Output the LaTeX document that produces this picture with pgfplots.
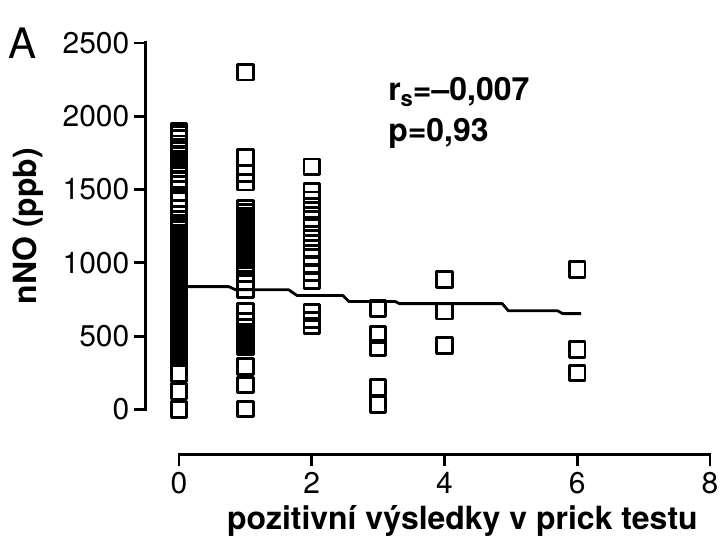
\documentclass[border=0pt]{standalone}
\usepackage{pgfplots}
\pgfplotsset{compat=1.18}
\usepackage{fontspec}
\setmainfont{TeX Gyre Heros}

% nNO values grouped by number of positive prick-test results
\pgfplotstableread{
x y
0 1895
0 1875
0 1850
0 1812
0 1790
0 1765
0 1730
0 1700
0 1670
0 1640
0 1610
0 1570
0 1535
0 1440
0 1370
0 1335
0 1300
0 1270
0 1240
0 1200
0 1175
0 1160
0 1145
0 1130
0 1115
0 1100
0 1085
0 1070
0 1055
0 1040
0 1025
0 1010
0 995
0 980
0 965
0 950
0 935
0 920
0 905
0 890
0 875
0 860
0 845
0 830
0 815
0 800
0 785
0 770
0 755
0 740
0 725
0 710
0 695
0 680
0 665
0 650
0 635
0 620
0 605
0 590
0 575
0 560
0 545
0 530
0 515
0 500
0 485
0 470
0 455
0 440
0 425
0 410
0 395
0 380
0 365
0 350
0 245
0 125
0 0
1 2300
1 1720
1 1610
1 1550
1 1370
1 1345
1 1320
1 1300
1 1275
1 1250
1 1230
1 1205
1 1180
1 1160
1 1135
1 1110
1 1090
1 1065
1 1040
1 1020
1 995
1 970
1 870
1 817
1 668
1 600
1 530
1 510
1 490
1 470
1 450
1 430
1 293
1 167
1 3
2 1655
2 1490
2 1430
2 1360
2 1300
2 1240
2 1170
2 1100
2 1040
2 980
2 930
2 880
2 660
2 610
2 570
3 690
3 510
3 420
3 150
3 35
4 885
4 670
4 435
6 955
6 410
6 250
}\nnodata

% fitted trend (stepwise)
\pgfplotstableread{
x y
0    838
0.75 838
0.85 817
1.65 817
1.78 777
2.47 777
2.56 736
3.26 736
3.32 722
4.87 722
4.96 674
5.70 674
5.78 654
6.06 654
}\trend

\begin{document}
\begin{tikzpicture}
\begin{axis}[
  scale only axis,
  width=565pt, height=412pt,
  xmin=-0.5, xmax=8,
  ymin=-306, ymax=2500,
  axis x line*=bottom, axis y line*=left,
  axis line style={draw=none},
  clip=false,
  xtick={0,2,4,6,8},
  ytick={0,500,1000,1500,2000,2500},
  tick align=outside,
  major tick length=12pt,
  every tick/.style={black, line width=2.8pt},
  /pgf/number format/1000 sep={},
  /pgf/number format/assume math mode=true,
  tick label style={font=\fontsize{30}{35}\selectfont},
  xticklabel style={yshift=-2pt},
  yticklabel style={xshift=-1pt},
  ylabel={\bfseries nNO (ppb)},
  ylabel style={at={(axis description cs:-0.208,0.5545)}, anchor=center,
    font=\fontsize{32}{38}\selectfont},
  xlabel={\bfseries pozitivní výsledky v prick testu},
  xlabel style={at={(axis description cs:0.561,-0.163)}, anchor=center,
    font=\fontsize{32}{38}\selectfont},
]
% axis lines offset from each other
\draw[line width=2.9pt, line cap=rect] (axis cs:-0.5,0) -- (axis cs:-0.5,2500);
\draw[line width=2.9pt, line cap=rect] (axis cs:0,-306) -- (axis cs:8,-306);

\addplot[black, line width=2.8pt, line join=round] table[x=x, y=y] {\trend};
\addplot[only marks, mark=square, mark size=7.8pt,
  mark options={black, line width=2.9pt, line join=round}] table[x=x, y=y] {\nnodata};

\node[anchor=west, font=\fontsize{32}{38}\selectfont\bfseries, inner sep=0pt]
  at (axis cs:3.15,2165) {r\raisebox{-0.35ex}{\fontsize{22}{26}\selectfont s}=–0,007};
\node[anchor=west, font=\fontsize{32}{38}\selectfont\bfseries, inner sep=0pt]
  at (axis cs:3.15,1880) {p=0,93};
\node[anchor=center, font=\fontsize{42}{48}\selectfont]
  at (axis description cs:-0.218,1.0) {A};

\coordinate (bl) at (rel axis cs:0,0);
\coordinate (tr) at (rel axis cs:1,1);
\end{axis}
\pgfresetboundingbox
\path[use as bounding box] ([shift={(-146pt,-90pt)}]bl) rectangle ([shift={(12pt,43pt)}]tr);
\end{tikzpicture}
\end{document}
